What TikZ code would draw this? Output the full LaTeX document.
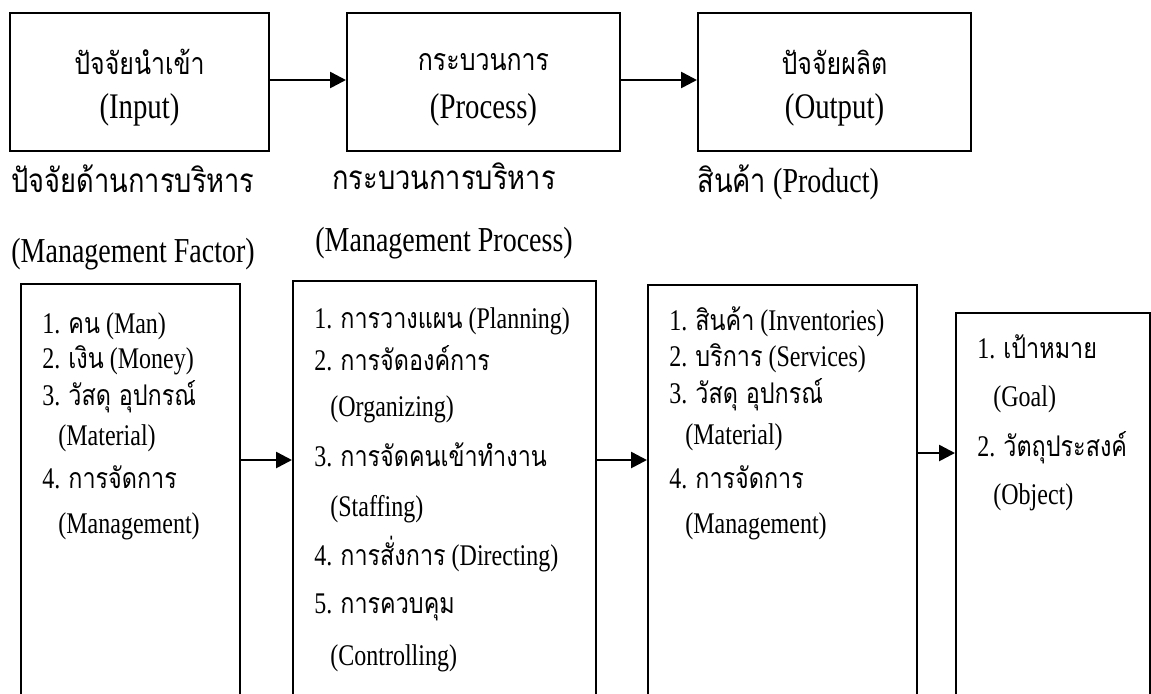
\documentclass[tikz,border=0pt]{standalone}
\usepackage{fontspec}
\setmainfont[FakeStretch=0.8]{Liberation Serif}
\newfontfamily\thaifont[Script=Thai,Scale=0.95,FakeStretch=0.82]{Loma}
\newcommand\tf[1]{{\thaifont #1}}
\newcommand\tfs[1]{{\fontsize{16pt}{19pt}\thaifont #1}}
\usetikzlibrary{arrows.meta}
\begin{document}
\begin{tikzpicture}[x=0.5pt,y=-0.5pt,
  frame/.style={draw, line width=1pt, inner sep=0pt, anchor=north west},
  txt/.style={inner sep=0pt, font=\fontsize{15pt}{18pt}\selectfont},
  head/.style={inner sep=0pt, font=\fontsize{18pt}{21pt}\selectfont},
  captiontext/.style={inner sep=0pt, anchor=base west, font=\fontsize{17.5pt}{21pt}\selectfont},
  item/.style={txt, anchor=base west},
  arr/.style={line width=1.3pt, -{Triangle[length=8pt,width=8pt]}}]
\clip (0,0) rectangle (1151,693);

% top row: input -> process -> output
\node[frame, minimum width=129.5pt, minimum height=69pt] (t1) at (9,12) {};
\node[frame, minimum width=136.5pt, minimum height=69pt] (t2) at (346,12) {};
\node[frame, minimum width=136.5pt, minimum height=69pt] (t3) at (697,12) {};
\node[head] (t1a) at (t1.center |- 0,62) {\tfs{ปัจจัยนำเข้า}};
\node[head] (t1b) at (t1.center |- 0,110) {(Input)};
\node[head] (t2a) at (t2.center |- 0,62) {\tfs{กระบวนการ}};
\node[head] (t2b) at (t2.center |- 0,110) {(Process)};
\node[head] (t3a) at (t3.center |- 0,62) {\tfs{ปัจจัยผลิต}};
\node[head] (t3b) at (t3.center |- 0,110) {(Output)};
\coordinate (ytop) at (0,80);
\draw[arr] (t1.east |- ytop) -- (t2.west |- ytop);
\draw[arr] (t2.east |- ytop) -- (t3.west |- ytop);

% captions
\node[captiontext] (c1a) at (11,192) {\tf{ปัจจัยด้านการบริหาร}};
\node[captiontext] (c1b) at (11,262) {(Management Factor)};
\node[captiontext] (c2a) at (332,189) {\tf{กระบวนการบริหาร}};
\node[captiontext] (c2b) at (315,251) {(Management Process)};
\node[captiontext] (c3a) at (697,192) {\tf{สินค้า} (Product)};

% lower row of lists, running off the bottom edge
\node[frame, minimum width=109.5pt, minimum height=218.5pt] (a) at (20,283) {};
\node[frame, minimum width=151.5pt, minimum height=220pt] (b) at (292,280) {};
\node[frame, minimum width=134.5pt, minimum height=218pt] (c) at (647,284) {};
\node[frame, minimum width=97pt, minimum height=204pt] (d) at (955,312) {};
\coordinate (yab) at (0,460);
\coordinate (ycd) at (0,453);
\draw[arr] (a.east |- yab) -- (b.west |- yab);
\draw[arr] (b.east |- yab) -- (c.west |- yab);
\draw[arr] (c.east |- ycd) -- (d.west |- ycd);

\node[item] (a1) at (42,333) {1. \tf{คน} (Man)};
\node[item] (a2) at (42,368) {2. \tf{เงิน} (Money)};
\node[item] (a3) at (42,405) {3. \tf{วัสดุ อุปกรณ์}};
\node[item] (a4) at (58,445) {(Material)};
\node[item] (a5) at (42,488) {4. \tf{การจัดการ}};
\node[item] (a6) at (58,533) {(Management)};

\node[item] (b1) at (314,328) {1. \tf{การวางแผน} (Planning)};
\node[item] (b2) at (314,370) {2. \tf{การจัดองค์การ}};
\node[item] (b3) at (330,416) {(Organizing)};
\node[item] (b4) at (314,466) {3. \tf{การจัดคนเข้าทำงาน}};
\node[item] (b5) at (330,516) {(Staffing)};
\node[item] (b6) at (314,565) {4. \tf{การสั่งการ} (Directing)};
\node[item] (b7) at (314,613) {5. \tf{การควบคุม}};
\node[item] (b8) at (330,665) {(Controlling)};

\node[item] (c1) at (669,330) {1. \tf{สินค้า} (Inventories)};
\node[item] (c2) at (669,366) {2. \tf{บริการ} (Services)};
\node[item] (c3) at (669,403) {3. \tf{วัสดุ อุปกรณ์}};
\node[item] (c4) at (685,444) {(Material)};
\node[item] (c5) at (669,488) {4. \tf{การจัดการ}};
\node[item] (c6) at (685,533) {(Management)};

\node[item] (d1) at (977,358) {1. \tf{เป้าหมาย}};
\node[item] (d2) at (993,406) {(Goal)};
\node[item] (d3) at (977,456) {2. \tf{วัตถุประสงค์}};
\node[item] (d4) at (993,504) {(Object)};
\end{tikzpicture}
\end{document}
